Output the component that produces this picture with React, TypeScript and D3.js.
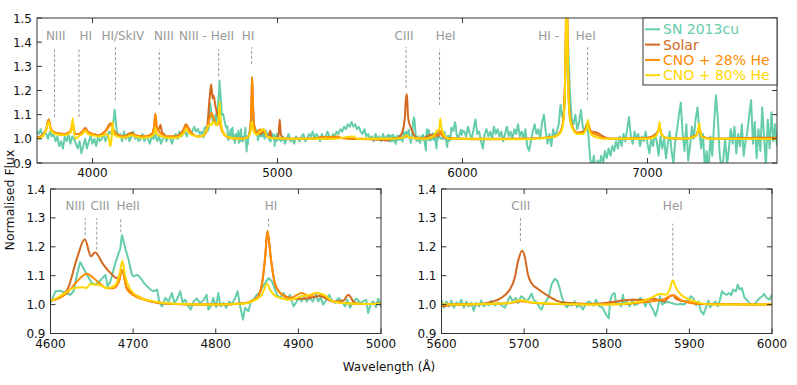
import React from "react";
import * as d3 from "d3";

type Pt = [number, number];

const snBlueStart = 3700; // 10 A grid
const snBlue = [
  1.03, 1.02, 1.04, 1.01, 1.03, 1.02, 1.0, 1.03, 1.01, 1.02,
  0.99, 1.01, 0.97, 0.99, 0.96, 1.01, 0.99, 1.02, 0.98, 1.01,
  1.0, 0.98, 0.96, 0.99, 0.94, 0.97, 1.0, 0.96, 0.99, 1.01,
  0.98, 1.0, 0.97, 1.01, 0.99, 1.0, 1.02, 0.99, 1.01, 1.03,
  1.02, 1.05, 1.12, 1.04, 1.01, 1.02, 0.99, 1.03, 1.0, 1.02,
  0.99, 1.01, 1.03, 1.0, 1.01, 0.99, 1.0, 1.02, 0.99, 1.01,
  1.0, 0.98, 1.01, 1.0, 1.02, 0.99, 1.01, 0.98, 1.0, 1.02,
  0.99, 1.01, 1.0, 0.98, 1.01, 1.02, 1.0, 1.03, 1.01, 1.02,
  1.03, 1.01, 1.04, 1.02, 1.03, 1.05, 1.03, 1.04, 1.02, 1.03,
];
const snZoomBlue: Pt[] = [
  [4600, 1.006], [4606, 1.046], [4612, 1.048], [4618, 1.04], [4624, 1.034], [4628, 1.046],
  [4632, 1.103], [4636, 1.147], [4640, 1.126], [4644, 1.103], [4650, 1.075], [4654, 1.069],
  [4660, 1.083], [4666.5, 1.103], [4669, 1.063], [4672.5, 1.08], [4678.5, 1.144], [4684.5, 1.195],
  [4686.5, 1.241], [4690.5, 1.195], [4694.5, 1.155], [4698.5, 1.103], [4700.5, 1.098], [4705, 1.103],
  [4709, 1.092], [4713, 1.075], [4717, 1.063], [4721, 1.052], [4725, 1.046], [4729, 1.052],
  [4732, 1.006], [4735, 0.994], [4739, 1.023], [4743, 1.011], [4747, 1.04], [4750, 1.006],
  [4753, 1.017], [4757, 1.046], [4760, 1.006], [4763, 1.017], [4767, 0.994], [4770, 0.983],
  [4773, 1.011], [4777, 1.021], [4781, 1.006], [4785, 1.014], [4789, 1.034], [4791, 0.983],
  [4794, 0.994], [4797, 1.023], [4800.5, 0.991], [4803, 1.04], [4806, 0.994], [4809.5, 1.006],
  [4812.5, 0.989], [4816.5, 1.011], [4819.5, 1.0], [4823.5, 1.023], [4826.5, 1.046], [4829.5, 0.994],
  [4833, 0.948], [4835.5, 0.989], [4839.5, 0.977], [4842.5, 1.011], [4845.5, 1.017], [4849.5, 1.034],
  [4853, 1.04], [4857, 1.063], [4860, 1.075], [4864, 1.092], [4868, 1.08], [4870.5, 1.063],
  [4874, 1.034], [4878, 1.023], [4882, 1.04], [4886, 1.017], [4890, 1.034], [4894, 0.994],
  [4897, 1.006], [4900, 1.023], [4904, 1.011], [4907, 1.029], [4910, 1.011], [4913.5, 1.023],
  [4917.5, 1.011], [4921.5, 1.034], [4924, 1.011], [4927, 1.025], [4930, 1.0], [4934, 1.017],
  [4937.5, 1.034], [4940, 1.017], [4944.5, 1.006], [4948.5, 1.023], [4952.5, 1.011], [4956.5, 0.994],
  [4959, 1.017], [4962.5, 0.989], [4966.5, 1.011], [4970.5, 1.021], [4974.5, 1.006], [4978.5, 1.011],
  [4982, 1.017], [4984.5, 0.971], [4987.5, 1.0], [4990.5, 1.011], [4994, 0.991], [4996.5, 1.021],
  [5000, 0.994],
];
const snMidStart = 5010;
const snMid = [
  1.0, 0.99, 1.01, 0.98, 1.0, 1.02, 0.99, 1.0, 0.98, 1.01,
  1.0, 0.99, 1.01, 1.02, 0.99, 1.0, 1.02, 1.01, 1.03, 1.0,
  1.02, 1.01, 0.99, 1.02, 1.0, 1.01, 1.03, 1.01, 1.0, 1.02,
  1.01, 1.03, 1.02, 1.04, 1.03, 1.05, 1.04, 1.06, 1.05, 1.07,
  1.05, 1.06, 1.04, 1.05, 1.03, 1.02, 1.04, 1.01, 1.02, 1.0,
  1.01, 0.99, 1.02, 1.0, 1.01, 0.99, 1.02, 1.0, 1.01,
];
const snZoomRed: Pt[] = [
  [5600, 1.017], [5603, 0.989], [5606, 1.011], [5609, 0.994], [5612, 1.014], [5615, 0.989],
  [5618, 1.008], [5621, 0.998], [5624, 1.017], [5627, 0.989], [5630, 1.011], [5633, 0.994],
  [5636, 1.006], [5639, 0.979], [5642, 1.006], [5645.5, 0.994], [5648, 1.014], [5651, 0.994],
  [5654, 1.002], [5657.5, 0.998], [5660, 1.014], [5664.5, 0.997], [5668.5, 1.006], [5672.5, 0.998],
  [5676.5, 0.989], [5680.5, 1.014], [5683, 1.029], [5686.5, 1.011], [5690, 1.023], [5692.5, 1.006],
  [5696.5, 1.029], [5699.5, 1.023], [5702.5, 1.011], [5706, 1.021], [5709, 1.038], [5711.5, 1.017],
  [5715, 1.009], [5718, 0.994], [5721, 0.983], [5723.5, 1.0], [5727, 1.014], [5730, 1.029],
  [5733, 1.069], [5737, 1.089], [5740, 1.083], [5743, 1.057], [5746, 1.023], [5749, 1.0],
  [5752, 0.991], [5755, 1.002], [5758, 0.997], [5761, 1.011], [5764, 0.991], [5767, 1.0],
  [5771, 0.983], [5774, 0.998], [5778, 1.011], [5781, 1.006], [5784, 0.997], [5787, 1.017],
  [5791, 0.994], [5795, 0.989], [5799, 0.966], [5802.5, 0.952], [5804, 1.011], [5806.5, 1.034],
  [5809.5, 1.04], [5811.5, 1.002], [5814.5, 1.006], [5817.5, 0.994], [5819.5, 1.034], [5821.5, 1.002],
  [5824.5, 1.011], [5827.5, 0.994], [5831, 1.017], [5833.5, 0.998], [5837.5, 1.002], [5840.5, 1.023],
  [5843.5, 1.014], [5847, 0.994], [5850, 1.017], [5852.5, 1.0], [5856, 0.983], [5859, 0.96],
  [5862, 0.989], [5864.5, 1.029], [5867, 1.0], [5870, 1.006], [5874, 1.009], [5878, 1.006],
  [5882, 1.002], [5886, 1.0], [5890, 1.002], [5894, 1.0], [5898, 1.014], [5902, 1.029],
  [5905, 1.021], [5908, 0.998], [5911, 1.011], [5914, 0.977], [5917, 0.966], [5920, 0.989],
  [5923, 1.014], [5925, 0.991], [5928, 1.0], [5931.5, 1.011], [5934.5, 0.994], [5937, 1.017],
  [5939.5, 1.046], [5942.5, 1.037], [5945, 1.034], [5948.5, 1.04], [5950.5, 1.032], [5953, 1.052],
  [5956.5, 1.046], [5958.5, 1.069], [5961, 1.052], [5963.5, 1.057], [5966.5, 1.025], [5969, 1.017],
  [5972.5, 1.006], [5976, 0.998], [5978.5, 1.0], [5981.5, 1.011], [5984.5, 1.021], [5988, 1.029],
  [5990.5, 1.037], [5993.5, 1.023], [5997, 1.017], [6000, 1.034],
];
const snRedStart = 6010;
const snRed = [
  1.03, 1.01, 1.05, 1.02, 1.0, 1.04, 1.08, 1.02, 1.03, 0.99,
  0.96, 1.02, 1.04, 1.01, 1.03, 1.0, 1.05, 1.02, 1.04, 1.01,
  1.03, 0.99, 1.02, 1.05, 1.01, 1.03, 1.0, 1.04, 1.02, 1.06,
  1.01, 1.03, 1.0, 1.04, 0.97, 0.95, 0.99, 1.03, 1.06, 1.02,
  1.04, 1.0, 1.07, 1.1, 1.03, 0.98, 1.02, 0.97, 1.04, 1.01,
  1.03, 1.06, 1.14, 1.09, 1.12, 1.35, 1.4, 1.2, 1.08, 1.06,
  1.1, 1.04, 1.07, 1.12, 1.05, 1.03, 1.06, 1.02, 0.92, 0.88,
  0.93, 0.86, 0.91, 0.89, 0.93, 0.9, 0.95, 0.92, 0.96, 0.93,
  0.97, 0.95, 0.99, 0.96, 1.01, 0.97, 1.02, 0.99, 1.04, 1.09,
  1.01, 0.98, 1.03, 1.0, 1.02, 0.97, 1.01, 0.99, 1.03, 0.98,
  0.94, 1.0, 0.97, 1.02, 0.99, 0.93, 1.01, 0.96, 1.0, 0.92,
  0.98, 1.03, 0.95, 0.9, 0.99, 1.04, 1.1, 1.15, 1.02, 0.95,
  1.06, 0.91, 0.97, 1.05, 1.0, 1.08, 1.13, 1.04, 0.96, 1.02,
  0.88, 0.95, 0.86, 1.01, 0.93, 1.06, 1.18, 1.09, 0.94, 0.87,
  0.92, 1.0, 0.89, 0.96, 1.04, 0.98, 1.05, 0.94, 1.02, 0.97,
  1.06, 0.93, 0.99, 1.03, 1.1, 1.16, 0.98, 1.07, 0.92, 1.04,
  0.95, 1.13, 1.01, 0.89, 1.08, 0.96, 1.11, 0.99, 1.06, 0.97,
];

// model spectra (knots)
const solar: Pt[] = [
  [3700, 1.005], [3730, 1.015], [3750, 1.04], [3763, 1.08], [3775, 1.04], [3800, 1.025], [3850, 1.02],
  [3880, 1.03], [3893, 1.05], [3905, 1.02], [3925, 1.02], [3945, 1.03], [3961, 1.045], [3975, 1.03],
  [4000, 1.02], [4030, 1.015], [4060, 1.025], [4080, 1.045], [4090, 1.06], [4102, 1.065], [4112, 1.04],
  [4130, 1.02], [4170, 1.01], [4210, 1.025], [4230, 1.015], [4280, 1.01], [4320, 1.02], [4333, 1.05],
  [4340, 1.1], [4347, 1.05], [4360, 1.04], [4367, 1.058], [4375, 1.03], [4400, 1.01], [4450, 1.01],
  [4490, 1.035], [4505, 1.06], [4515, 1.05], [4540, 1.02], [4570, 1.01], [4600, 1.014], [4620, 1.05],
  [4632, 1.16], [4641.5, 1.226], [4649, 1.167], [4654, 1.18], [4664, 1.138], [4676.5, 1.098],
  [4680.5, 1.09], [4686.5, 1.12], [4692.5, 1.057], [4705, 1.03], [4721, 1.011], [4741, 1.003],
  [4800, 1.0], [4835, 1.005], [4849.7, 1.023], [4855.8, 1.07], [4860, 1.17], [4862.5, 1.255],
  [4866.7, 1.16], [4871, 1.08], [4878, 1.04], [4890, 1.023], [4902, 1.02], [4914, 1.023], [4926, 1.03],
  [4942, 1.011], [4954.5, 1.014], [4960.5, 1.034], [4966.6, 1.011], [4974.6, 1.002], [5000, 1.004],
  [5006, 1.02], [5012, 1.08], [5018, 1.02], [5030, 1.002], [5060, 1.0], [5200, 1.0], [5238, 1.008],
  [5260, 1.0], [5330, 1.005], [5400, 1.0], [5500, 0.998], [5570, 0.995], [5590, 0.993], [5620, 1.0],
  [5650, 1.003], [5662.5, 1.011], [5670.5, 1.02], [5676.5, 1.032], [5682.6, 1.052], [5688.6, 1.092],
  [5692.6, 1.149], [5697.5, 1.186], [5700.7, 1.167], [5704.7, 1.103], [5708.8, 1.075], [5716.8, 1.054],
  [5726.9, 1.034], [5739, 1.014], [5751, 1.006], [5779, 1.002], [5799, 1.006], [5819.5, 1.014],
  [5827.6, 1.017], [5843.7, 1.016], [5855.8, 1.02], [5870, 1.011], [5874, 1.023], [5880, 1.032],
  [5884, 1.02], [5900, 1.008], [5912, 1.002], [6000, 1.0], [6100, 0.998], [6300, 1.0], [6450, 1.005],
  [6500, 1.01], [6530, 1.03], [6545, 1.08], [6553, 1.2], [6558, 1.4], [6563, 1.75], [6568, 1.4],
  [6573, 1.2], [6581, 1.09], [6600, 1.04], [6620, 1.025], [6650, 1.03], [6665, 1.04], [6678, 1.06],
  [6688, 1.04], [6700, 1.03], [6730, 1.025], [6760, 1.01], [6800, 1.0], [6900, 1.0], [7000, 1.005],
  [7040, 1.015], [7055, 1.03], [7065, 1.045], [7075, 1.02], [7100, 1.005], [7200, 1.0], [7265, 1.015],
  [7280, 1.045], [7292, 1.01], [7350, 1.0], [7500, 1.003], [7600, 1.005], [7700, 1.005],
];
const cno28: Pt[] = [
  [3700, 1.005], [3730, 1.015], [3750, 1.04], [3763, 1.08], [3775, 1.04], [3800, 1.025], [3850, 1.02],
  [3880, 1.03], [3893, 1.07], [3905, 1.02], [3925, 1.02], [3945, 1.03], [3961, 1.04], [3975, 1.03],
  [4000, 1.02], [4030, 1.015], [4060, 1.025], [4080, 1.04], [4092, 1.055], [4102, 1.06], [4112, 1.03],
  [4130, 1.02], [4170, 1.01], [4210, 1.02], [4230, 1.015], [4280, 1.01], [4320, 1.02], [4333, 1.05],
  [4340, 1.105], [4347, 1.05], [4360, 1.03], [4375, 1.02], [4400, 1.01], [4450, 1.01], [4490, 1.03],
  [4505, 1.055], [4515, 1.045], [4540, 1.02], [4570, 1.01], [4600, 1.014], [4620, 1.04], [4632, 1.08],
  [4644, 1.107], [4652, 1.092], [4660, 1.072], [4668.5, 1.057], [4676.5, 1.057], [4683, 1.08],
  [4686.6, 1.12], [4692.6, 1.052], [4705, 1.025], [4725, 1.01], [4750, 1.002], [4800, 1.0],
  [4835, 1.005], [4849.7, 1.023], [4855.8, 1.07], [4860, 1.17], [4862.5, 1.255], [4866.7, 1.16],
  [4871, 1.08], [4878, 1.04], [4890, 1.023], [4904, 1.04], [4913, 1.029], [4922, 1.04], [4932, 1.029],
  [4942, 1.011], [4970, 1.003], [5000, 1.002], [5100, 1.0], [5238, 1.005], [5328, 1.01], [5345, 1.003],
  [5400, 1.0], [5600, 1.0], [5680, 1.005], [5697, 1.012], [5710, 1.006], [5750, 1.001], [5800, 1.0],
  [5850, 1.01], [5870, 1.02], [5880, 1.033], [5890, 1.015], [5910, 1.003], [6000, 1.0], [6300, 1.0],
  [6450, 1.005], [6500, 1.01], [6530, 1.03], [6545, 1.08], [6553, 1.2], [6558, 1.4], [6563, 1.75],
  [6568, 1.4], [6573, 1.2], [6581, 1.09], [6600, 1.04], [6620, 1.025], [6650, 1.025], [6665, 1.04],
  [6678, 1.07], [6688, 1.04], [6700, 1.025], [6730, 1.015], [6760, 1.005], [6800, 1.0], [7000, 1.003],
  [7040, 1.012], [7055, 1.03], [7065, 1.05], [7075, 1.02], [7100, 1.003], [7200, 1.0], [7265, 1.015],
  [7280, 1.05], [7292, 1.01], [7350, 1.0], [7700, 1.0],
];
const cno80: Pt[] = [
  [3700, 1.0], [3730, 1.01], [3750, 1.04], [3763, 1.07], [3775, 1.035], [3800, 1.02], [3850, 1.015],
  [3880, 1.025], [3889, 1.05], [3893, 1.085], [3898, 1.04], [3910, 1.0], [3925, 1.01], [3945, 1.02],
  [3961, 1.033], [3975, 1.02], [4000, 1.015], [4030, 1.01], [4060, 1.015], [4080, 1.02], [4090, 0.995],
  [4096, 0.97], [4103, 1.0], [4108, 1.07], [4115, 1.02], [4130, 1.01], [4170, 1.005], [4210, 1.015],
  [4230, 1.01], [4280, 1.005], [4320, 1.01], [4335, 1.025], [4340, 1.045], [4347, 1.02], [4375, 1.01],
  [4400, 1.005], [4450, 1.005], [4490, 1.02], [4505, 1.04], [4515, 1.03], [4540, 1.015], [4570, 1.01],
  [4600, 1.014], [4612, 1.03], [4628, 1.057], [4640, 1.06], [4643, 1.057], [4648, 1.07], [4660, 1.067],
  [4668.5, 1.057], [4678.7, 1.069], [4684, 1.11], [4687, 1.152], [4690, 1.103], [4696.7, 1.052],
  [4708, 1.025], [4725, 1.011], [4760, 1.002], [4800, 1.0], [4835, 1.004], [4850, 1.02], [4856, 1.035],
  [4862, 1.071], [4866, 1.05], [4870, 1.035], [4878, 1.023], [4890, 1.017], [4904, 1.029], [4913, 1.033],
  [4922, 1.04], [4932, 1.032], [4942, 1.011], [4970, 1.003], [5000, 1.002], [5100, 1.0], [5300, 1.0],
  [5410, 1.01], [5430, 1.0], [5600, 1.0], [5680, 1.005], [5697, 1.015], [5710, 1.007], [5750, 1.002],
  [5800, 1.0], [5840, 1.01], [5855, 1.025], [5864, 1.037], [5872, 1.034], [5876, 1.05], [5880, 1.083],
  [5884, 1.057], [5890, 1.034], [5900, 1.017], [5912, 1.006], [5930, 1.0], [6000, 1.0], [6300, 0.998],
  [6450, 1.003], [6500, 1.01], [6530, 1.025], [6545, 1.07], [6553, 1.18], [6558, 1.38], [6563, 1.7],
  [6568, 1.38], [6573, 1.18], [6581, 1.08], [6600, 1.035], [6620, 1.02], [6650, 1.02], [6665, 1.035],
  [6673, 1.05], [6678, 1.078], [6684, 1.04], [6700, 1.015], [6730, 1.005], [6760, 1.0], [7000, 1.0],
  [7040, 1.008], [7055, 1.025], [7060, 1.04], [7065, 1.07], [7070, 1.035], [7080, 1.015], [7100, 1.003],
  [7200, 1.0], [7260, 1.01], [7272, 1.03], [7280, 1.065], [7286, 1.025], [7300, 1.005], [7350, 1.0],
  [7700, 1.0],
];

const seriesNames = ["SN 2013cu", "Solar", "CNO + 28% He", "CNO + 80% He"];
const seriesColors = ["#66cdaa", "#d2691e", "#ff8c00", "#ffd700"];

const topXTicks = [4000, 5000, 6000, 7000];
const topYTicks = [0.9, 1.0, 1.1, 1.2, 1.3, 1.4, 1.5];
const blueXTicks = [4600, 4700, 4800, 4900, 5000];
const redXTicks = [5600, 5700, 5800, 5900, 6000];
const zoomYTicks = [0.9, 1.0, 1.1, 1.2, 1.3, 1.4];

// line ids: [label, label wavelength, line wavelength, line bottom, line top]
type Mark = [string, number, number | null, number, number];
const topMarks: Mark[] = [
  ["NIII", 3801, 3795, 1.09, 1.37],
  ["HI", 3964, 3927, 1.09, 1.37],
  ["HI/SkIV", 4164, 4124, 1.16, 1.38],
  ["NIII", 4386, 4361, 1.14, 1.37],
  ["NIII - HeII", 4617, 4682, 1.26, 1.37],
  ["HI", 4841, 4860, 1.31, 1.38],
  ["CIII", 5684, 5695, 1.21, 1.38],
  ["HeI", 5909, 5876, 1.14, 1.37],
  ["HI  -", 6466, null, 0, 0],
  ["HeI", 6666, 6676, 1.16, 1.38],
];
const blueMarks: Mark[] = [
  ["NIII", 4630, 4642, 1.24, 1.3],
  ["CIII", 4660, 4656, 1.19, 1.3],
  ["HeII", 4694, 4685, 1.25, 1.3],
  ["HI", 4867, 4864, 1.27, 1.3],
];
const redMarks: Mark[] = [
  ["CIII", 5696, 5695.5, 1.22, 1.3],
  ["HeI", 5880, 5880, 1.1, 1.28],
];

const grid = (start: number, vals: number[]): Pt[] => vals.map((f, i) => [start + i * 10, f]);
const sn: Pt[] = [
  ...grid(snBlueStart, snBlue),
  ...snZoomBlue,
  ...grid(snMidStart, snMid),
  ...snZoomRed,
  ...grid(snRedStart, snRed),
];
const models = [solar, cno28, cno80];

const FONT = "DejaVu Sans, sans-serif";

function Panel(props: {
  id: string;
  left: number; right: number; top: number; bottom: number;
  xDomain: [number, number]; yDomain: [number, number];
  xTicks: number[]; yTicks: number[];
  marks: Mark[]; labelLevel: number;
}) {
  const { id, left, right, top, bottom, xDomain, yDomain, xTicks, yTicks, marks, labelLevel } = props;
  const x = d3.scaleLinear().domain(xDomain).range([left, right]);
  const y = d3.scaleLinear().domain(yDomain).range([bottom, top]);
  const near = (d: Pt) => d[0] >= xDomain[0] - 40 && d[0] <= xDomain[1] + 40;
  const raw = d3.line<Pt>().x(d => x(d[0])).y(d => y(d[1]));
  const smooth = d3.line<Pt>().x(d => x(d[0])).y(d => y(d[1])).curve(d3.curveMonotoneX);
  const tk = 5;
  const fmtY = d3.format(".1f");
  return (
    <g>
      <defs>
        <clipPath id={id}>
          <rect x={left} y={top} width={right - left} height={bottom - top} />
        </clipPath>
      </defs>
      {marks.map((m, i) => (
        <g key={i}>
          <text x={x(m[1])} y={y(labelLevel)} textAnchor="middle" fontSize={12} fill="#999" fontFamily={FONT}>
            {m[0]}
          </text>
          {m[2] !== null && (
            <line x1={x(m[2])} x2={x(m[2])} y1={y(m[3])} y2={y(m[4])} stroke="#999" strokeWidth={1} strokeDasharray="3,2" />
          )}
        </g>
      ))}
      <g clipPath={`url(#${id})`} fill="none" strokeLinejoin="round">
        <path d={raw(sn.filter(near)) || ""} stroke={seriesColors[0]} strokeWidth={2} />
        {models.map((m, i) => (
          <path key={i} d={smooth(m.filter(near)) || ""} stroke={seriesColors[i + 1]} strokeWidth={2} />
        ))}
      </g>
      <rect x={left} y={top} width={right - left} height={bottom - top} fill="none" stroke="#333" strokeWidth={1} />
      {xTicks.map(t => (
        <g key={"x" + t}>
          <line x1={x(t)} x2={x(t)} y1={bottom} y2={bottom - tk} stroke="#333" />
          <line x1={x(t)} x2={x(t)} y1={top} y2={top + tk} stroke="#333" />
          <text x={x(t)} y={bottom + 14} textAnchor="middle" fontSize={12} fill="#111" fontFamily={FONT}>
            {t}
          </text>
        </g>
      ))}
      {yTicks.map(t => (
        <g key={"y" + t}>
          <line x1={left} x2={left + tk} y1={y(t)} y2={y(t)} stroke="#333" />
          <line x1={right} x2={right - tk} y1={y(t)} y2={y(t)} stroke="#333" />
          <text x={left - 5} y={y(t) + 4.5} textAnchor="end" fontSize={12} fill="#111" fontFamily={FONT}>
            {fmtY(t)}
          </text>
        </g>
      ))}
    </g>
  );
}

export default function App() {
  return (
    <div style={{ position: "absolute", left: 0, top: 0 }}>
      <svg width={797} height={385} style={{ display: "block", background: "#fff" }}>
        <Panel id="top" left={37} right={777} top={18} bottom={163}
          xDomain={[3700, 7700]} yDomain={[0.9, 1.5]} xTicks={topXTicks} yTicks={topYTicks}
          marks={topMarks} labelLevel={1.409} />
        <Panel id="blue" left={50.5} right={381} top={189} bottom={333.5}
          xDomain={[4600, 5000]} yDomain={[0.9, 1.4]} xTicks={blueXTicks} yTicks={zoomYTicks}
          marks={blueMarks} labelLevel={1.328} />
        <Panel id="red" left={441.5} right={772} top={189} bottom={333.5}
          xDomain={[5600, 6000]} yDomain={[0.9, 1.4]} xTicks={redXTicks} yTicks={zoomYTicks}
          marks={redMarks} labelLevel={1.328} />
        <g>
          <rect x={643} y={18} width={134} height={67} fill="#fff" stroke="#333" strokeWidth={1} />
          {seriesNames.map((n, i) => (
            <g key={n} transform={`translate(645, ${29.3 + i * 15.3})`}>
              <line x1={0} x2={15} y1={0} y2={0} stroke={seriesColors[i]} strokeWidth={2} />
              <text x={18} y={5} fontSize={14} fill={seriesColors[i]} fontFamily={FONT}>{n}</text>
            </g>
          ))}
        </g>
        <text transform="translate(14, 200) rotate(-90)" textAnchor="middle" fontSize={12.5} fill="#111" fontFamily={FONT}>
          Normalised Flux
        </text>
        <text x={389} y={371} textAnchor="middle" fontSize={12} fill="#111" fontFamily={FONT}>
          Wavelength (Å)
        </text>
      </svg>
    </div>
  );
}
